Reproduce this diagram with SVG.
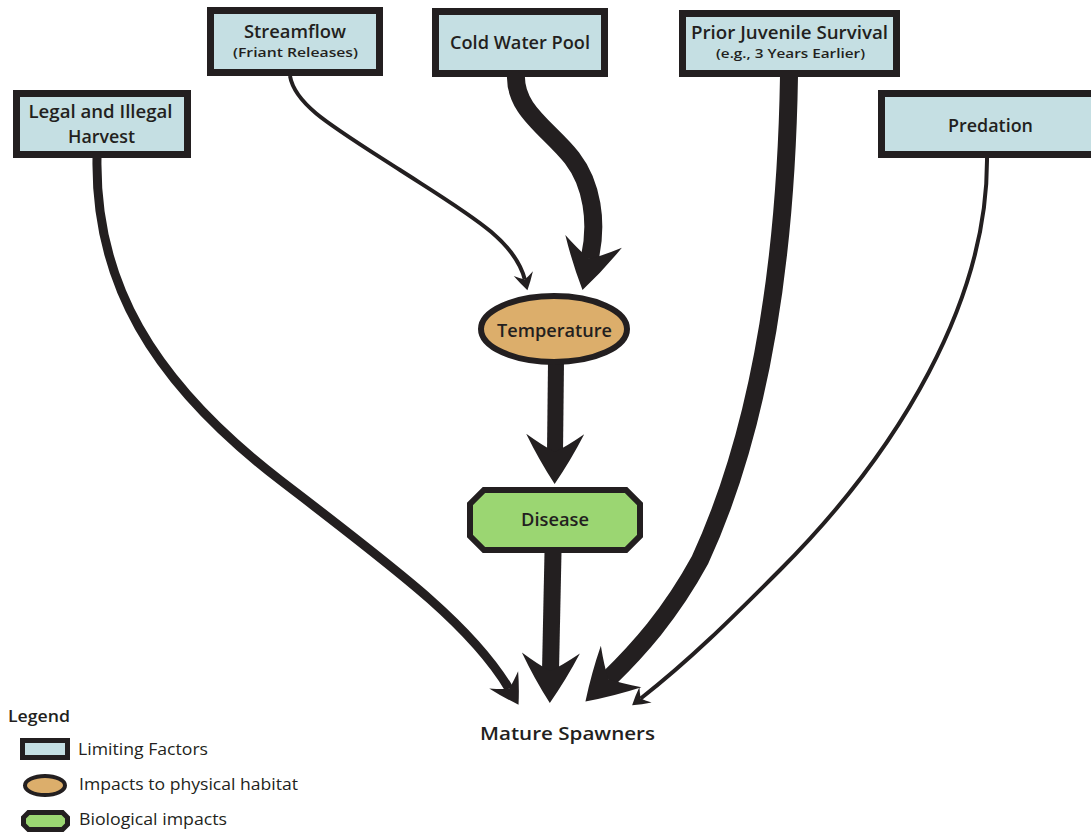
<svg xmlns="http://www.w3.org/2000/svg" width="1091" height="833" viewBox="0 0 1091 833">
<style>
.box{fill:#c5dfe3;stroke:#231f20;stroke-width:7}
.hab{fill:#dcae6b;stroke:#231f20;stroke-width:6}
.bio{fill:#9bd672;stroke:#231f20;stroke-width:6}
.lbl{font-family:"Open Sans",Lato,"Liberation Sans",sans-serif;font-weight:600;font-size:18.5px;fill:#231f20;text-anchor:middle}
.sub{font-family:"Open Sans",Lato,"Liberation Sans",sans-serif;font-weight:600;font-size:13px;fill:#231f20;text-anchor:middle}
.leg{font-family:"Open Sans",Lato,"Liberation Sans",sans-serif;font-weight:400;font-size:16px;fill:#231f20}
.legt{font-family:"Open Sans",Lato,"Liberation Sans",sans-serif;font-weight:600;font-size:16px;fill:#231f20}
.c{fill:none;stroke:#231f20}
</style>
<defs>
<path id="head" d="M0,0 Q-24,16 -50,29 Q-38,12 -32,0 Q-38,-12 -50,-29 Q-24,-16 0,0Z" fill="#231f20"/>
<marker id="hb" markerUnits="userSpaceOnUse" orient="auto" overflow="visible" refX="-32" refY="0" markerWidth="1" markerHeight="1"><use href="#head"/></marker>
<marker id="hm" markerUnits="userSpaceOnUse" orient="auto" overflow="visible" refX="-18.6" refY="0" markerWidth="1" markerHeight="1"><use href="#head" transform="scale(0.58)"/></marker>
<marker id="hs" markerUnits="userSpaceOnUse" orient="auto" overflow="visible" refX="-10.9" refY="0" markerWidth="1" markerHeight="1"><use href="#head" transform="scale(0.34)"/></marker>
</defs>
<rect width="1091" height="833" fill="#ffffff"/>
<g id="connectors">
<path class="c" stroke-width="9" marker-end="url(#hm)" d="M97,158 C95,280 150,380 280,480 C397,570 471,625 509,688.7"/>
<path class="c" stroke-width="4" marker-end="url(#hs)" d="M290,76 C295,105 330,125 400,170 C470,215 515,240 524.8,279.6"/>
<path class="c" stroke-width="18" marker-end="url(#hb)" d="M516,74 C514,110 548,128 572,158 C592,184 598,222 589.6,258.9"/>
<path class="c" stroke-width="18" marker-end="url(#hb)" d="M789,76 C786,260 760,430 700,560 C670,615 638,650 608.3,679.1"/>
<path class="c" stroke-width="4" marker-end="url(#hs)" d="M987,158 C988,300 900,450 780,570 C730,620 690,660 640.7,698.5"/>
<path class="c" stroke-width="16" marker-end="url(#hb)" d="M556,362 L555,452"/>
<path class="c" stroke-width="17" marker-end="url(#hb)" d="M553,552 L550.5,671"/>
</g>
<g id="harvest">
<rect class="box" x="16.5" y="93.5" width="171" height="61"/>
<text class="lbl" x="100.5" y="118" textLength="144" lengthAdjust="spacingAndGlyphs">Legal and Illegal</text>
<text class="lbl" x="101.5" y="143" textLength="67" lengthAdjust="spacingAndGlyphs">Harvest</text>
</g>
<g id="streamflow">
<rect class="box" x="210.5" y="10.5" width="169" height="62"/>
<text class="lbl" x="295" y="38" textLength="102" lengthAdjust="spacingAndGlyphs">Streamflow</text>
<text class="sub" x="295.5" y="57" textLength="125" lengthAdjust="spacingAndGlyphs">(Friant Releases)</text>
</g>
<g id="coldwater">
<rect class="box" x="435.5" y="11.5" width="169" height="62"/>
<text class="lbl" x="520" y="49" textLength="140" lengthAdjust="spacingAndGlyphs">Cold Water Pool</text>
</g>
<g id="juvenile">
<rect class="box" x="682.5" y="13.5" width="214" height="60"/>
<text class="lbl" x="789.5" y="39" textLength="197" lengthAdjust="spacingAndGlyphs">Prior Juvenile Survival</text>
<text class="sub" x="790.5" y="58" textLength="149" lengthAdjust="spacingAndGlyphs">(e.g., 3 Years Earlier)</text>
</g>
<g id="predation">
<rect class="box" x="881.5" y="93.5" width="220" height="61"/>
<text class="lbl" x="990.5" y="132" textLength="85" lengthAdjust="spacingAndGlyphs">Predation</text>
</g>
<g id="temperature">
<ellipse class="hab" cx="554" cy="329" rx="73" ry="33"/>
<text class="lbl" x="554.5" y="337" textLength="115" lengthAdjust="spacingAndGlyphs">Temperature</text>
</g>
<g id="disease">
<polygon class="bio" points="484,490 626,490 640,504 640,536 626,550 484,550 470,536 470,504"/>
<text class="lbl" x="555" y="526" textLength="68" lengthAdjust="spacingAndGlyphs">Disease</text>
</g>
<g id="spawners">
<text class="lbl" x="567.5" y="740" textLength="175" lengthAdjust="spacingAndGlyphs">Mature Spawners</text>
</g>
<g id="legend">
<text class="legt" x="8" y="722" textLength="62" lengthAdjust="spacingAndGlyphs">Legend</text>
<rect x="22.5" y="740.5" width="45" height="17" fill="#c5dfe3" stroke="#231f20" stroke-width="5"/>
<text class="leg" x="78" y="755" textLength="130" lengthAdjust="spacingAndGlyphs">Limiting Factors</text>
<ellipse cx="45" cy="785.5" rx="20" ry="9.5" fill="#dcae6b" stroke="#231f20" stroke-width="4"/>
<text class="leg" x="79" y="790" textLength="219" lengthAdjust="spacingAndGlyphs">Impacts to physical habitat</text>
<polygon points="28.5,812.5 62.5,812.5 67.5,817.5 67.5,824.5 62.5,829.5 28.5,829.5 23.5,824.5 23.5,817.5" fill="#9bd672" stroke="#231f20" stroke-width="5"/>
<text class="leg" x="79" y="825" textLength="148" lengthAdjust="spacingAndGlyphs">Biological impacts</text>
</g>
</svg>
